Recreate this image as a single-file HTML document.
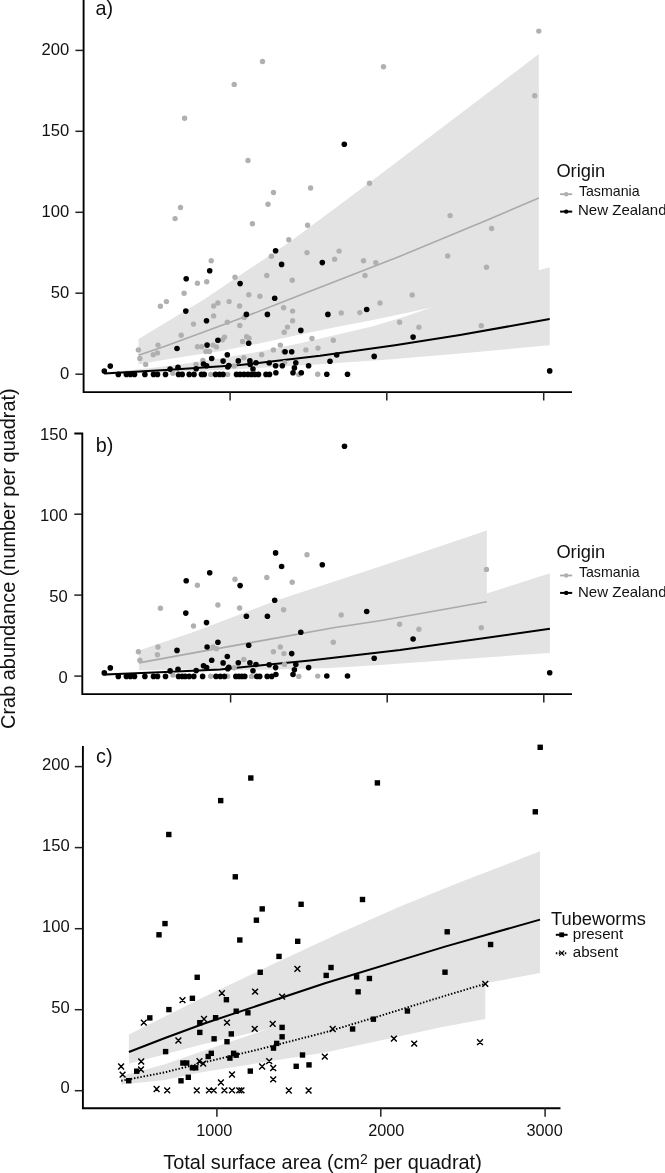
<!DOCTYPE html>
<html><head><meta charset="utf-8"><title>Crab abundance figure</title>
<style>html,body{margin:0;padding:0;background:#fff;}body{width:665px;height:1173px;overflow:hidden;font-family:"Liberation Sans",sans-serif;}svg{display:block;will-change:transform;filter:blur(0.3px);}</style>
</head><body>
<svg width="665" height="1173" viewBox="0 0 665 1173"><polygon points="138.5,339.1 170,319.9 202.8,300.2 290,241.8 373.7,179.5 538.8,54.1 538.8,280 431,307.4 406,313 373,320 340,326.3 300,334.6 260,343.2 220,351.2 180,357.3 160,360.6 138.5,364.5" fill="#e3e3e3"/>
<polygon points="104,372.2 140,369.2 180,364.6 220,358.2 260,351.6 300,343.2 340,334 373,326.3 406,316.3 431,307.6 538.8,270.3 549.7,267.3 549.7,345.3 460,353.4 392,359.2 315,364.6 240,369 170,372.2 104,374.6" fill="#e3e3e3"/>
<polyline points="138.5,355.3 165,346.3 245,316.8 289.5,299.2 400,256.2 485,221.1 538.8,198" fill="none" stroke="#aaaaaa" stroke-width="1.6" stroke-linejoin="round" />
<polyline points="104.2,373.4 170,369.8 240,365 320,355.8 395,345.2 460,335 549.7,319.1" fill="none" stroke="#000" stroke-width="2" stroke-linejoin="round" />
<circle cx="538.8" cy="31.1" r="2.7" fill="#b0b0b0"/><circle cx="262.5" cy="61.5" r="2.7" fill="#b0b0b0"/><circle cx="383.5" cy="66.7" r="2.7" fill="#b0b0b0"/><circle cx="234.2" cy="84.4" r="2.7" fill="#b0b0b0"/><circle cx="534.7" cy="95.8" r="2.7" fill="#b0b0b0"/><circle cx="184.6" cy="118.3" r="2.7" fill="#b0b0b0"/><circle cx="248" cy="160.5" r="2.7" fill="#b0b0b0"/><circle cx="273.5" cy="192.5" r="2.7" fill="#b0b0b0"/><circle cx="268" cy="204.2" r="2.7" fill="#b0b0b0"/><circle cx="180.5" cy="207.5" r="2.7" fill="#b0b0b0"/><circle cx="175.1" cy="218.6" r="2.7" fill="#b0b0b0"/><circle cx="252.4" cy="223.8" r="2.7" fill="#b0b0b0"/><circle cx="288.8" cy="239.7" r="2.7" fill="#b0b0b0"/><circle cx="271.4" cy="256.2" r="2.7" fill="#b0b0b0"/><circle cx="211.2" cy="260.8" r="2.7" fill="#b0b0b0"/><circle cx="197.4" cy="283.3" r="2.7" fill="#b0b0b0"/><circle cx="206.7" cy="281.8" r="2.7" fill="#b0b0b0"/><circle cx="235" cy="277.3" r="2.7" fill="#b0b0b0"/><circle cx="266.8" cy="275.5" r="2.7" fill="#b0b0b0"/><circle cx="184.1" cy="293.2" r="2.7" fill="#b0b0b0"/><circle cx="248.8" cy="294.7" r="2.7" fill="#b0b0b0"/><circle cx="259.9" cy="296.2" r="2.7" fill="#b0b0b0"/><circle cx="310.6" cy="188" r="2.7" fill="#b0b0b0"/><circle cx="369.5" cy="183.2" r="2.7" fill="#b0b0b0"/><circle cx="307.6" cy="225.3" r="2.7" fill="#b0b0b0"/><circle cx="450.1" cy="215.6" r="2.7" fill="#b0b0b0"/><circle cx="307" cy="252.6" r="2.7" fill="#b0b0b0"/><circle cx="339.1" cy="251.1" r="2.7" fill="#b0b0b0"/><circle cx="334.6" cy="259.2" r="2.7" fill="#b0b0b0"/><circle cx="363.5" cy="260.8" r="2.7" fill="#b0b0b0"/><circle cx="375.8" cy="262.6" r="2.7" fill="#b0b0b0"/><circle cx="447.7" cy="255.9" r="2.7" fill="#b0b0b0"/><circle cx="292.2" cy="280.3" r="2.7" fill="#b0b0b0"/><circle cx="365" cy="275.5" r="2.7" fill="#b0b0b0"/><circle cx="412.2" cy="295" r="2.7" fill="#b0b0b0"/><circle cx="491.6" cy="228.5" r="2.7" fill="#b0b0b0"/><circle cx="486.5" cy="267.3" r="2.7" fill="#b0b0b0"/><circle cx="481.3" cy="325.8" r="2.7" fill="#b0b0b0"/><circle cx="160.4" cy="306.3" r="2.7" fill="#b0b0b0"/><circle cx="166.4" cy="301.6" r="2.7" fill="#b0b0b0"/><circle cx="138.4" cy="349.9" r="2.7" fill="#b0b0b0"/><circle cx="158" cy="345.1" r="2.7" fill="#b0b0b0"/><circle cx="139.9" cy="358.4" r="2.7" fill="#b0b0b0"/><circle cx="153.2" cy="354.7" r="2.7" fill="#b0b0b0"/><circle cx="157.4" cy="352.9" r="2.7" fill="#b0b0b0"/><circle cx="145.7" cy="364.4" r="2.7" fill="#b0b0b0"/><circle cx="213.7" cy="306" r="2.7" fill="#b0b0b0"/><circle cx="217.9" cy="303" r="2.7" fill="#b0b0b0"/><circle cx="229.1" cy="301.6" r="2.7" fill="#b0b0b0"/><circle cx="239.6" cy="306" r="2.7" fill="#b0b0b0"/><circle cx="213.6" cy="315.9" r="2.7" fill="#b0b0b0"/><circle cx="193.5" cy="324.1" r="2.7" fill="#b0b0b0"/><circle cx="227.3" cy="322.3" r="2.7" fill="#b0b0b0"/><circle cx="239.8" cy="325.5" r="2.7" fill="#b0b0b0"/><circle cx="181.2" cy="335.3" r="2.7" fill="#b0b0b0"/><circle cx="224.5" cy="337.1" r="2.7" fill="#b0b0b0"/><circle cx="222.5" cy="339.7" r="2.7" fill="#b0b0b0"/><circle cx="242.6" cy="341.5" r="2.7" fill="#b0b0b0"/><circle cx="197.5" cy="346.7" r="2.7" fill="#b0b0b0"/><circle cx="201.7" cy="346.7" r="2.7" fill="#b0b0b0"/><circle cx="213.1" cy="345.1" r="2.7" fill="#b0b0b0"/><circle cx="216.5" cy="346.9" r="2.7" fill="#b0b0b0"/><circle cx="205.9" cy="351.5" r="2.7" fill="#b0b0b0"/><circle cx="209.5" cy="351.5" r="2.7" fill="#b0b0b0"/><circle cx="243.8" cy="357.7" r="2.7" fill="#b0b0b0"/><circle cx="202.9" cy="360.5" r="2.7" fill="#b0b0b0"/><circle cx="196" cy="364.4" r="2.7" fill="#b0b0b0"/><circle cx="234.2" cy="365.9" r="2.7" fill="#b0b0b0"/><circle cx="172.8" cy="373.2" r="2.7" fill="#b0b0b0"/><circle cx="210.7" cy="374.4" r="2.7" fill="#b0b0b0"/><circle cx="227.6" cy="374.4" r="2.7" fill="#b0b0b0"/><circle cx="283.6" cy="307.8" r="2.7" fill="#b0b0b0"/><circle cx="292.6" cy="311.1" r="2.7" fill="#b0b0b0"/><circle cx="244.2" cy="317.4" r="2.7" fill="#b0b0b0"/><circle cx="292.6" cy="320.7" r="2.7" fill="#b0b0b0"/><circle cx="287.5" cy="327.1" r="2.7" fill="#b0b0b0"/><circle cx="284.2" cy="332.2" r="2.7" fill="#b0b0b0"/><circle cx="246.6" cy="336.7" r="2.7" fill="#b0b0b0"/><circle cx="249" cy="338.3" r="2.7" fill="#b0b0b0"/><circle cx="312" cy="338.5" r="2.7" fill="#b0b0b0"/><circle cx="280.3" cy="345.1" r="2.7" fill="#b0b0b0"/><circle cx="273.4" cy="349.9" r="2.7" fill="#b0b0b0"/><circle cx="305.9" cy="349.9" r="2.7" fill="#b0b0b0"/><circle cx="318" cy="348.1" r="2.7" fill="#b0b0b0"/><circle cx="261.7" cy="354.7" r="2.7" fill="#b0b0b0"/><circle cx="284.5" cy="362.6" r="2.7" fill="#b0b0b0"/><circle cx="298.8" cy="374.6" r="2.7" fill="#b0b0b0"/><circle cx="317.7" cy="374.3" r="2.7" fill="#b0b0b0"/><circle cx="380" cy="303" r="2.7" fill="#b0b0b0"/><circle cx="359.8" cy="312.6" r="2.7" fill="#b0b0b0"/><circle cx="341.2" cy="312.9" r="2.7" fill="#b0b0b0"/><circle cx="333.3" cy="340.3" r="2.7" fill="#b0b0b0"/><circle cx="399.6" cy="322.3" r="2.7" fill="#b0b0b0"/><circle cx="418.9" cy="327.3" r="2.7" fill="#b0b0b0"/><circle cx="283.9" cy="351.7" r="2.7" fill="#b0b0b0"/>
<circle cx="344.3" cy="144.2" r="2.8" fill="#000"/><circle cx="275.6" cy="250.8" r="2.8" fill="#000"/><circle cx="281.6" cy="264.4" r="2.8" fill="#000"/><circle cx="209.7" cy="270.7" r="2.8" fill="#000"/><circle cx="186.2" cy="278.8" r="2.8" fill="#000"/><circle cx="240.1" cy="283.6" r="2.8" fill="#000"/><circle cx="274.7" cy="298.3" r="2.8" fill="#000"/><circle cx="322.3" cy="262.6" r="2.8" fill="#000"/><circle cx="110.3" cy="366.1" r="2.8" fill="#000"/><circle cx="104.3" cy="371.1" r="2.8" fill="#000"/><circle cx="185.8" cy="311.1" r="2.8" fill="#000"/><circle cx="206.5" cy="320.7" r="2.8" fill="#000"/><circle cx="246.4" cy="314.4" r="2.8" fill="#000"/><circle cx="217.9" cy="340.3" r="2.8" fill="#000"/><circle cx="177" cy="348.5" r="2.8" fill="#000"/><circle cx="207.1" cy="345.1" r="2.8" fill="#000"/><circle cx="211.7" cy="358.5" r="2.8" fill="#000"/><circle cx="227.3" cy="354.7" r="2.8" fill="#000"/><circle cx="223.1" cy="361.1" r="2.8" fill="#000"/><circle cx="238.3" cy="360.9" r="2.8" fill="#000"/><circle cx="203.5" cy="364" r="2.8" fill="#000"/><circle cx="206.6" cy="365.7" r="2.8" fill="#000"/><circle cx="178" cy="367.4" r="2.8" fill="#000"/><circle cx="170.1" cy="369.1" r="2.8" fill="#000"/><circle cx="196.2" cy="368.8" r="2.8" fill="#000"/><circle cx="227.8" cy="367" r="2.8" fill="#000"/><circle cx="228.8" cy="365.6" r="2.8" fill="#000"/><circle cx="267.4" cy="314.4" r="2.8" fill="#000"/><circle cx="300.8" cy="330.4" r="2.8" fill="#000"/><circle cx="248.7" cy="343.3" r="2.8" fill="#000"/><circle cx="285.1" cy="351.7" r="2.8" fill="#000"/><circle cx="291.7" cy="351.7" r="2.8" fill="#000"/><circle cx="249.9" cy="360.9" r="2.8" fill="#000"/><circle cx="250.2" cy="364.5" r="2.8" fill="#000"/><circle cx="256" cy="362.7" r="2.8" fill="#000"/><circle cx="269.2" cy="363" r="2.8" fill="#000"/><circle cx="275.6" cy="365.8" r="2.8" fill="#000"/><circle cx="282.3" cy="365.8" r="2.8" fill="#000"/><circle cx="295.8" cy="362.7" r="2.8" fill="#000"/><circle cx="294.4" cy="367.9" r="2.8" fill="#000"/><circle cx="308.6" cy="365.8" r="2.8" fill="#000"/><circle cx="253" cy="369" r="2.8" fill="#000"/><circle cx="293" cy="372.7" r="2.8" fill="#000"/><circle cx="301.3" cy="372.7" r="2.8" fill="#000"/><circle cx="275.9" cy="372.7" r="2.8" fill="#000"/><circle cx="366.7" cy="309.5" r="2.8" fill="#000"/><circle cx="327.9" cy="314.4" r="2.8" fill="#000"/><circle cx="336.7" cy="355" r="2.8" fill="#000"/><circle cx="330" cy="361.2" r="2.8" fill="#000"/><circle cx="374.2" cy="356.4" r="2.8" fill="#000"/><circle cx="326.8" cy="374.2" r="2.8" fill="#000"/><circle cx="347.5" cy="374.2" r="2.8" fill="#000"/><circle cx="413.1" cy="337.1" r="2.8" fill="#000"/><circle cx="549.7" cy="370.9" r="2.8" fill="#000"/>
<circle cx="118.3" cy="374.4" r="2.8" fill="#000"/><circle cx="126.4" cy="374.4" r="2.8" fill="#000"/><circle cx="130.4" cy="374.4" r="2.8" fill="#000"/><circle cx="134.5" cy="374.4" r="2.8" fill="#000"/><circle cx="144.9" cy="374.4" r="2.8" fill="#000"/><circle cx="153.5" cy="374.4" r="2.8" fill="#000"/><circle cx="157.5" cy="374.4" r="2.8" fill="#000"/><circle cx="165.5" cy="374.4" r="2.8" fill="#000"/><circle cx="178.5" cy="374.4" r="2.8" fill="#000"/><circle cx="182.2" cy="374.4" r="2.8" fill="#000"/><circle cx="189.2" cy="374.4" r="2.8" fill="#000"/><circle cx="194" cy="374.4" r="2.8" fill="#000"/><circle cx="201.5" cy="374.4" r="2.8" fill="#000"/><circle cx="204.2" cy="374.4" r="2.8" fill="#000"/><circle cx="215.5" cy="374.4" r="2.8" fill="#000"/><circle cx="219.5" cy="374.4" r="2.8" fill="#000"/><circle cx="223" cy="374.4" r="2.8" fill="#000"/><circle cx="236.5" cy="374.4" r="2.8" fill="#000"/><circle cx="240" cy="374.4" r="2.8" fill="#000"/><circle cx="244" cy="374.4" r="2.8" fill="#000"/><circle cx="248" cy="374.4" r="2.8" fill="#000"/><circle cx="251.5" cy="374.4" r="2.8" fill="#000"/><circle cx="255" cy="374.4" r="2.8" fill="#000"/><circle cx="258.5" cy="374.4" r="2.8" fill="#000"/><circle cx="266" cy="374.4" r="2.8" fill="#000"/><circle cx="269.5" cy="374.4" r="2.8" fill="#000"/>
<polygon points="138.9,650.4 195,631.6 280,599.2 380,566.5 486.8,530.5 486.8,640 330,664 230,668.8 138.9,670.3" fill="#e3e3e3"/>
<polygon points="104,673.3 138.9,672.6 200,670.5 250,667.5 300,658 400,628 486.8,593.6 549.9,573.2 549.9,652.9 380,664.9 330,668 250,670 138.9,672 104,676.5" fill="#e3e3e3"/>
<polyline points="138.9,662.9 195,652.6 255,641.9 335,627.5 380,620.7 486.8,601.7" fill="none" stroke="#aaaaaa" stroke-width="1.6" stroke-linejoin="round" />
<polyline points="104.8,674.4 160,672.3 220,669.4 310,660.4 400,649.9 549.9,628.8" fill="none" stroke="#000" stroke-width="2" stroke-linejoin="round" />
<circle cx="197.4" cy="585.3" r="2.7" fill="#b0b0b0"/><circle cx="235" cy="579.3" r="2.7" fill="#b0b0b0"/><circle cx="266.8" cy="577.5" r="2.7" fill="#b0b0b0"/><circle cx="160.4" cy="608.3" r="2.7" fill="#b0b0b0"/><circle cx="217.9" cy="605" r="2.7" fill="#b0b0b0"/><circle cx="239.6" cy="608" r="2.7" fill="#b0b0b0"/><circle cx="283.6" cy="609.8" r="2.7" fill="#b0b0b0"/><circle cx="193.5" cy="626" r="2.7" fill="#b0b0b0"/><circle cx="307" cy="554.7" r="2.7" fill="#b0b0b0"/><circle cx="292.2" cy="582.3" r="2.7" fill="#b0b0b0"/><circle cx="341.2" cy="614.9" r="2.7" fill="#b0b0b0"/><circle cx="399.6" cy="624.2" r="2.7" fill="#b0b0b0"/><circle cx="418.9" cy="629.2" r="2.7" fill="#b0b0b0"/><circle cx="138.4" cy="651.8" r="2.7" fill="#b0b0b0"/><circle cx="158" cy="647" r="2.7" fill="#b0b0b0"/><circle cx="157.4" cy="654.8" r="2.7" fill="#b0b0b0"/><circle cx="139.9" cy="660.2" r="2.7" fill="#b0b0b0"/><circle cx="172.8" cy="675" r="2.7" fill="#b0b0b0"/><circle cx="333.3" cy="642.2" r="2.7" fill="#b0b0b0"/><circle cx="213.1" cy="647" r="2.7" fill="#b0b0b0"/><circle cx="216.5" cy="648.8" r="2.7" fill="#b0b0b0"/><circle cx="273.4" cy="651.8" r="2.7" fill="#b0b0b0"/><circle cx="280.3" cy="647" r="2.7" fill="#b0b0b0"/><circle cx="283.9" cy="653.6" r="2.7" fill="#b0b0b0"/><circle cx="243.8" cy="659.5" r="2.7" fill="#b0b0b0"/><circle cx="284.5" cy="664.4" r="2.7" fill="#b0b0b0"/><circle cx="234.2" cy="667.7" r="2.7" fill="#b0b0b0"/><circle cx="210.7" cy="676.2" r="2.7" fill="#b0b0b0"/><circle cx="227.6" cy="676.2" r="2.7" fill="#b0b0b0"/><circle cx="298.8" cy="676.4" r="2.7" fill="#b0b0b0"/><circle cx="317.7" cy="676.1" r="2.7" fill="#b0b0b0"/><circle cx="486.5" cy="569.4" r="2.7" fill="#b0b0b0"/><circle cx="481.3" cy="627.7" r="2.7" fill="#b0b0b0"/><circle cx="251.5" cy="676.4" r="2.7" fill="#b0b0b0"/>
<circle cx="275.6" cy="552.9" r="2.8" fill="#000"/><circle cx="281.6" cy="566.5" r="2.8" fill="#000"/><circle cx="209.7" cy="572.8" r="2.8" fill="#000"/><circle cx="186.2" cy="580.8" r="2.8" fill="#000"/><circle cx="240.1" cy="585.6" r="2.8" fill="#000"/><circle cx="274.7" cy="600.3" r="2.8" fill="#000"/><circle cx="322.3" cy="564.7" r="2.8" fill="#000"/><circle cx="110.3" cy="667.9" r="2.8" fill="#000"/><circle cx="104.3" cy="672.9" r="2.8" fill="#000"/><circle cx="185.8" cy="613.1" r="2.8" fill="#000"/><circle cx="206.5" cy="622.6" r="2.8" fill="#000"/><circle cx="246.4" cy="616.3" r="2.8" fill="#000"/><circle cx="217.9" cy="642.2" r="2.8" fill="#000"/><circle cx="177" cy="650.4" r="2.8" fill="#000"/><circle cx="207.1" cy="647" r="2.8" fill="#000"/><circle cx="211.7" cy="660.3" r="2.8" fill="#000"/><circle cx="227.3" cy="656.5" r="2.8" fill="#000"/><circle cx="223.1" cy="662.9" r="2.8" fill="#000"/><circle cx="238.3" cy="662.7" r="2.8" fill="#000"/><circle cx="203.5" cy="665.8" r="2.8" fill="#000"/><circle cx="206.6" cy="667.5" r="2.8" fill="#000"/><circle cx="178" cy="669.2" r="2.8" fill="#000"/><circle cx="170.1" cy="670.9" r="2.8" fill="#000"/><circle cx="196.2" cy="670.6" r="2.8" fill="#000"/><circle cx="227.8" cy="668.8" r="2.8" fill="#000"/><circle cx="228.8" cy="667.4" r="2.8" fill="#000"/><circle cx="267.4" cy="616.3" r="2.8" fill="#000"/><circle cx="300.8" cy="632.3" r="2.8" fill="#000"/><circle cx="248.7" cy="645.2" r="2.8" fill="#000"/><circle cx="291.7" cy="653.6" r="2.8" fill="#000"/><circle cx="249.9" cy="662.7" r="2.8" fill="#000"/><circle cx="256" cy="664.5" r="2.8" fill="#000"/><circle cx="269.2" cy="664.8" r="2.8" fill="#000"/><circle cx="275.6" cy="667.6" r="2.8" fill="#000"/><circle cx="295.8" cy="664.5" r="2.8" fill="#000"/><circle cx="294.4" cy="669.7" r="2.8" fill="#000"/><circle cx="308.6" cy="667.6" r="2.8" fill="#000"/><circle cx="253" cy="670.8" r="2.8" fill="#000"/><circle cx="293" cy="674.5" r="2.8" fill="#000"/><circle cx="275.9" cy="674.5" r="2.8" fill="#000"/><circle cx="366.7" cy="611.5" r="2.8" fill="#000"/><circle cx="374.2" cy="658.2" r="2.8" fill="#000"/><circle cx="326.8" cy="676" r="2.8" fill="#000"/><circle cx="347.5" cy="676" r="2.8" fill="#000"/><circle cx="413.1" cy="639" r="2.8" fill="#000"/><circle cx="549.7" cy="672.7" r="2.8" fill="#000"/>
<circle cx="344.5" cy="446.2" r="2.8" fill="#000"/>
<circle cx="118.3" cy="676.4" r="2.8" fill="#000"/><circle cx="126.4" cy="676.4" r="2.8" fill="#000"/><circle cx="130.4" cy="676.4" r="2.8" fill="#000"/><circle cx="134.5" cy="676.4" r="2.8" fill="#000"/><circle cx="144.9" cy="676.4" r="2.8" fill="#000"/><circle cx="153.5" cy="676.4" r="2.8" fill="#000"/><circle cx="157.5" cy="676.4" r="2.8" fill="#000"/><circle cx="165.5" cy="676.4" r="2.8" fill="#000"/><circle cx="178.5" cy="676.4" r="2.8" fill="#000"/><circle cx="182.2" cy="676.4" r="2.8" fill="#000"/><circle cx="185.2" cy="676.4" r="2.8" fill="#000"/><circle cx="189.2" cy="676.4" r="2.8" fill="#000"/><circle cx="193.8" cy="676.4" r="2.8" fill="#000"/><circle cx="202.6" cy="676.4" r="2.8" fill="#000"/><circle cx="216" cy="676.4" r="2.8" fill="#000"/><circle cx="220.3" cy="676.4" r="2.8" fill="#000"/><circle cx="224.5" cy="676.4" r="2.8" fill="#000"/><circle cx="235.8" cy="676.4" r="2.8" fill="#000"/><circle cx="238.8" cy="676.4" r="2.8" fill="#000"/><circle cx="241.8" cy="676.4" r="2.8" fill="#000"/><circle cx="244.8" cy="676.4" r="2.8" fill="#000"/><circle cx="256.7" cy="676.4" r="2.8" fill="#000"/><circle cx="259.7" cy="676.4" r="2.8" fill="#000"/><circle cx="267.2" cy="676.4" r="2.8" fill="#000"/><circle cx="271.7" cy="676.4" r="2.8" fill="#000"/>
<polygon points="128.9,1034.4 210,994.1 281.8,960 340,933.1 400,906.5 460,882.3 540,851.3 540,973.1 485.3,983.2 266.5,1029.4 200,1045 128.9,1063.7" fill="#e3e3e3"/>
<polygon points="121.2,1076 165,1064.2 200,1051.9 266.5,1029.4 380,1000 485.3,975 485.3,1019 440,1027.4 325,1052.5 200,1072.4 165,1080 121.2,1084.5" fill="#e3e3e3"/>
<polyline points="128.9,1052 165,1038 205,1023.2 325,983.2 445,946.6 540,919.6" fill="none" stroke="#000" stroke-width="2" stroke-linejoin="round" />
<polyline points="121.2,1080.8 165,1072.3 205,1062.2 260,1049.1 325,1032.4 380,1015.9 445,995.8 485.3,983.8" fill="none" stroke="#000" stroke-width="1.9" stroke-linejoin="round" stroke-dasharray="1.45 1.8"/>
<rect x="537.5" y="744.6" width="5.4" height="5.4"/><rect x="248.1" y="775.3" width="5.4" height="5.4"/><rect x="374.7" y="780.2" width="5.4" height="5.4"/><rect x="218" y="797.9" width="5.4" height="5.4"/><rect x="532.6" y="809.1" width="5.4" height="5.4"/><rect x="166.1" y="831.8" width="5.4" height="5.4"/><rect x="232.6" y="874.1" width="5.4" height="5.4"/><rect x="298.4" y="901.6" width="5.4" height="5.4"/><rect x="359.8" y="896.8" width="5.4" height="5.4"/><rect x="259.5" y="906.2" width="5.4" height="5.4"/><rect x="253.7" y="917.5" width="5.4" height="5.4"/><rect x="162.3" y="920.9" width="5.4" height="5.4"/><rect x="156.3" y="932.1" width="5.4" height="5.4"/><rect x="237.1" y="937.3" width="5.4" height="5.4"/><rect x="295" y="938.6" width="5.4" height="5.4"/><rect x="444.5" y="929.1" width="5.4" height="5.4"/><rect x="487.9" y="941.8" width="5.4" height="5.4"/><rect x="276.3" y="953.7" width="5.4" height="5.4"/><rect x="442.3" y="969.5" width="5.4" height="5.4"/><rect x="257.5" y="969.6" width="5.4" height="5.4"/><rect x="328.3" y="964.8" width="5.4" height="5.4"/><rect x="323.5" y="972.7" width="5.4" height="5.4"/><rect x="353.9" y="974.2" width="5.4" height="5.4"/><rect x="366.7" y="975.8" width="5.4" height="5.4"/><rect x="355.4" y="989.1" width="5.4" height="5.4"/><rect x="194.5" y="974.6" width="5.4" height="5.4"/><rect x="189.7" y="995.6" width="5.4" height="5.4"/><rect x="223.7" y="997" width="5.4" height="5.4"/><rect x="166.2" y="1006.9" width="5.4" height="5.4"/><rect x="147.1" y="1015.2" width="5.4" height="5.4"/><rect x="197.1" y="1020" width="5.4" height="5.4"/><rect x="197.1" y="1029.7" width="5.4" height="5.4"/><rect x="212.9" y="1015" width="5.4" height="5.4"/><rect x="233.5" y="1008.5" width="5.4" height="5.4"/><rect x="245.2" y="1010.1" width="5.4" height="5.4"/><rect x="211.4" y="1036.1" width="5.4" height="5.4"/><rect x="228.6" y="1031.2" width="5.4" height="5.4"/><rect x="224.3" y="1039" width="5.4" height="5.4"/><rect x="279.4" y="1024.7" width="5.4" height="5.4"/><rect x="279.4" y="1034.1" width="5.4" height="5.4"/><rect x="274" y="1040.7" width="5.4" height="5.4"/><rect x="270.8" y="1045.4" width="5.4" height="5.4"/><rect x="162.9" y="1048.9" width="5.4" height="5.4"/><rect x="180.2" y="1060.3" width="5.4" height="5.4"/><rect x="184" y="1060.3" width="5.4" height="5.4"/><rect x="189.7" y="1065.1" width="5.4" height="5.4"/><rect x="193" y="1065.1" width="5.4" height="5.4"/><rect x="205.5" y="1053.8" width="5.4" height="5.4"/><rect x="208.6" y="1050.6" width="5.4" height="5.4"/><rect x="230.9" y="1050.6" width="5.4" height="5.4"/><rect x="233.5" y="1052.5" width="5.4" height="5.4"/><rect x="227.2" y="1055.4" width="5.4" height="5.4"/><rect x="299.8" y="1052.3" width="5.4" height="5.4"/><rect x="293.5" y="1063.6" width="5.4" height="5.4"/><rect x="306.3" y="1062.2" width="5.4" height="5.4"/><rect x="247.6" y="1068.4" width="5.4" height="5.4"/><rect x="134" y="1068.5" width="5.4" height="5.4"/><rect x="126" y="1078" width="5.4" height="5.4"/><rect x="178.3" y="1078.1" width="5.4" height="5.4"/><rect x="185.6" y="1074.6" width="5.4" height="5.4"/><rect x="404.7" y="1008.3" width="5.4" height="5.4"/><rect x="370.7" y="1016.5" width="5.4" height="5.4"/><rect x="349.9" y="1026.3" width="5.4" height="5.4"/>
<path d="M294.5 965.9L300.3 971.7M294.5 971.7L300.3 965.9M179.6 997.3L185.4 1003.1M179.6 1003.1L185.4 997.3M219 990.3L224.8 996.1M219 996.1L224.8 990.3M252.2 988.8L258 994.6M252.2 994.6L258 988.8M279.2 993.7L285 999.5M279.2 999.5L285 993.7M482.4 980.9L488.2 986.7M482.4 986.7L488.2 980.9M140.9 1019.8L146.7 1025.6M140.9 1025.6L146.7 1019.8M201.1 1016.1L206.9 1021.9M201.1 1021.9L206.9 1016.1M224.1 1019.7L229.9 1025.5M224.1 1025.5L229.9 1019.7M251.8 1025.9L257.6 1031.7M251.8 1031.7L257.6 1025.9M269.8 1021L275.6 1026.8M269.8 1026.8L275.6 1021M175.5 1037.6L181.3 1043.4M175.5 1043.4L181.3 1037.6M329.8 1026.1L335.6 1031.9M329.8 1031.9L335.6 1026.1M391 1035.8L396.8 1041.6M391 1041.6L396.8 1035.8M411.3 1040.7L417.1 1046.5M411.3 1046.5L417.1 1040.7M477.1 1039.2L482.9 1045M477.1 1045L482.9 1039.2M321.9 1053.7L327.7 1059.5M321.9 1059.5L327.7 1053.7M138.3 1058.6L144.1 1064.4M138.3 1064.4L144.1 1058.6M138.1 1066.6L143.9 1072.4M138.1 1072.4L143.9 1066.6M118.2 1063.6L124 1069.4M118.2 1069.4L124 1063.6M119.7 1071.7L125.5 1077.5M119.7 1077.5L125.5 1071.7M196.6 1058.2L202.4 1064M196.6 1064L202.4 1058.2M200.3 1060.7L206.1 1066.5M200.3 1066.5L206.1 1060.7M266.3 1058.3L272.1 1064.1M266.3 1064.1L272.1 1058.3M259.2 1063.6L265 1069.4M259.2 1069.4L265 1063.6M270.3 1065.1L276.1 1070.9M270.3 1070.9L276.1 1065.1M229.1 1071.6L234.9 1077.4M229.1 1077.4L234.9 1071.6M270.3 1076.5L276.1 1082.3M270.3 1082.3L276.1 1076.5M218 1079.6L223.8 1085.4M218 1085.4L223.8 1079.6M153.7 1086.1L159.5 1091.9M153.7 1091.9L159.5 1086.1M164.3 1087.5L170.1 1093.3M164.3 1093.3L170.1 1087.5M193.9 1087.5L199.7 1093.3M193.9 1093.3L199.7 1087.5M206.1 1087.5L211.9 1093.3M206.1 1093.3L211.9 1087.5M210.8 1087.5L216.6 1093.3M210.8 1093.3L216.6 1087.5M221.5 1087.5L227.3 1093.3M221.5 1093.3L227.3 1087.5M229.1 1087.5L234.9 1093.3M229.1 1093.3L234.9 1087.5M236.3 1087.5L242.1 1093.3M236.3 1093.3L242.1 1087.5M238.6 1087.5L244.4 1093.3M238.6 1093.3L244.4 1087.5M285.9 1087.6L291.7 1093.4M285.9 1093.4L291.7 1087.6M305.7 1087.6L311.5 1093.4M305.7 1093.4L311.5 1087.6" stroke="#000" stroke-width="1.45" fill="none"/>
<path d="M83.6 0V392.1H572" stroke="#000" stroke-width="1.9" fill="none" stroke-linecap="butt"/>
<line x1="75.4" y1="50.4" x2="83" y2="50.4" stroke="#222" stroke-width="1.5"/>
<line x1="75.4" y1="131.3" x2="83" y2="131.3" stroke="#222" stroke-width="1.5"/>
<line x1="75.4" y1="212.3" x2="83" y2="212.3" stroke="#222" stroke-width="1.5"/>
<line x1="75.4" y1="293.2" x2="83" y2="293.2" stroke="#222" stroke-width="1.5"/>
<line x1="75.4" y1="374.2" x2="83" y2="374.2" stroke="#222" stroke-width="1.5"/>
<line x1="230.1" y1="392" x2="230.1" y2="400.5" stroke="#222" stroke-width="1.5"/>
<line x1="386.8" y1="392" x2="386.8" y2="400.5" stroke="#222" stroke-width="1.5"/>
<line x1="543.7" y1="392" x2="543.7" y2="400.5" stroke="#222" stroke-width="1.5"/>
<path d="M74.3 433.5H82.3V694.1H572" stroke="#000" stroke-width="1.9" fill="none" stroke-linecap="butt"/>
<line x1="74.3" y1="514.2" x2="82" y2="514.2" stroke="#222" stroke-width="1.5"/>
<line x1="74.3" y1="595.1" x2="82" y2="595.1" stroke="#222" stroke-width="1.5"/>
<line x1="74.3" y1="676.1" x2="82" y2="676.1" stroke="#222" stroke-width="1.5"/>
<line x1="230.6" y1="694" x2="230.6" y2="702.5" stroke="#222" stroke-width="1.5"/>
<line x1="387.2" y1="694" x2="387.2" y2="702.5" stroke="#222" stroke-width="1.5"/>
<line x1="543.8" y1="694" x2="543.8" y2="702.5" stroke="#222" stroke-width="1.5"/>
<path d="M82.9 745.9V1108.3H560.5" stroke="#000" stroke-width="1.9" fill="none" stroke-linecap="butt"/>
<line x1="74.8" y1="766.6" x2="82.5" y2="766.6" stroke="#222" stroke-width="1.5"/>
<line x1="74.8" y1="847.6" x2="82.5" y2="847.6" stroke="#222" stroke-width="1.5"/>
<line x1="74.8" y1="928.7" x2="82.5" y2="928.7" stroke="#222" stroke-width="1.5"/>
<line x1="74.8" y1="1009.7" x2="82.5" y2="1009.7" stroke="#222" stroke-width="1.5"/>
<line x1="74.8" y1="1090.7" x2="82.5" y2="1090.7" stroke="#222" stroke-width="1.5"/>
<line x1="216.9" y1="1108" x2="216.9" y2="1116.7" stroke="#222" stroke-width="1.5"/>
<line x1="380.8" y1="1108" x2="380.8" y2="1116.7" stroke="#222" stroke-width="1.5"/>
<line x1="545.1" y1="1108" x2="545.1" y2="1116.7" stroke="#222" stroke-width="1.5"/>
<text x="69.2" y="55" font-size="16.6" text-anchor="end" font-family="Liberation Sans, sans-serif" fill="#111" >200</text>
<text x="69.2" y="135.7" font-size="16.6" text-anchor="end" font-family="Liberation Sans, sans-serif" fill="#111" >150</text>
<text x="69.2" y="216.7" font-size="16.6" text-anchor="end" font-family="Liberation Sans, sans-serif" fill="#111" >100</text>
<text x="69.2" y="297.8" font-size="16.6" text-anchor="end" font-family="Liberation Sans, sans-serif" fill="#111" >50</text>
<text x="69.2" y="378.8" font-size="16.6" text-anchor="end" font-family="Liberation Sans, sans-serif" fill="#111" >0</text>
<text x="67.7" y="440" font-size="16.6" text-anchor="end" font-family="Liberation Sans, sans-serif" fill="#111" >150</text>
<text x="67.7" y="520.7" font-size="16.6" text-anchor="end" font-family="Liberation Sans, sans-serif" fill="#111" >100</text>
<text x="67.7" y="601.6" font-size="16.6" text-anchor="end" font-family="Liberation Sans, sans-serif" fill="#111" >50</text>
<text x="67.7" y="682.7" font-size="16.6" text-anchor="end" font-family="Liberation Sans, sans-serif" fill="#111" >0</text>
<text x="69.7" y="769.7" font-size="16.6" text-anchor="end" font-family="Liberation Sans, sans-serif" fill="#111" >200</text>
<text x="69.7" y="850.5" font-size="16.6" text-anchor="end" font-family="Liberation Sans, sans-serif" fill="#111" >150</text>
<text x="69.7" y="931.7" font-size="16.6" text-anchor="end" font-family="Liberation Sans, sans-serif" fill="#111" >100</text>
<text x="69.7" y="1012.7" font-size="16.6" text-anchor="end" font-family="Liberation Sans, sans-serif" fill="#111" >50</text>
<text x="69.7" y="1093.2" font-size="16.6" text-anchor="end" font-family="Liberation Sans, sans-serif" fill="#111" >0</text>
<text x="214.3" y="1135.8" font-size="16.3" text-anchor="middle" font-family="Liberation Sans, sans-serif" fill="#111" >1000</text>
<text x="386.3" y="1135.8" font-size="16.3" text-anchor="middle" font-family="Liberation Sans, sans-serif" fill="#111" >2000</text>
<text x="544.6" y="1135.8" font-size="16.3" text-anchor="middle" font-family="Liberation Sans, sans-serif" fill="#111" >3000</text>
<text x="95.6" y="14.7" font-size="19.8" text-anchor="start" font-family="Liberation Sans, sans-serif" fill="#111" >a)</text>
<text x="95.8" y="451.7" font-size="19.8" text-anchor="start" font-family="Liberation Sans, sans-serif" fill="#111" >b)</text>
<text x="96" y="762.7" font-size="19.8" text-anchor="start" font-family="Liberation Sans, sans-serif" fill="#111" >c)</text>
<text transform="translate(15.0,558.6) rotate(-90)" font-size="19.9" text-anchor="middle" font-family="Liberation Sans, sans-serif" fill="#111">Crab abundance (number per quadrat)</text>
<text x="163.3" y="1168.6" font-size="19.9" font-family="Liberation Sans, sans-serif" fill="#111">Total surface area (cm<tspan font-size="14" dy="-4.7">2</tspan><tspan dy="4.7"> per quadrat)</tspan></text>
<text x="556.4" y="176.8" font-size="18.3" text-anchor="start" font-family="Liberation Sans, sans-serif" fill="#111" >Origin</text>
<line x1="560.1" y1="194.2" x2="572.2" y2="194.2" stroke="#aaaaaa" stroke-width="1.8"/>
<circle cx="566.2" cy="194.2" r="2.2" fill="#b0b0b0"/>
<text x="578.9" y="195.9" font-size="14.2" text-anchor="start" font-family="Liberation Sans, sans-serif" fill="#111" >Tasmania</text>
<line x1="560.1" y1="211.6" x2="572.2" y2="211.6" stroke="#000" stroke-width="2"/>
<circle cx="566.2" cy="211.6" r="2.2" fill="#000"/>
<text x="578" y="215.3" font-size="14.2" text-anchor="start" font-family="Liberation Sans, sans-serif" fill="#111" textLength="88.5" lengthAdjust="spacingAndGlyphs">New Zealand</text>
<text x="556.4" y="558.1" font-size="18.3" text-anchor="start" font-family="Liberation Sans, sans-serif" fill="#111" >Origin</text>
<line x1="560.1" y1="575.5" x2="572.2" y2="575.5" stroke="#aaaaaa" stroke-width="1.8"/>
<circle cx="566.2" cy="575.5" r="2.2" fill="#b0b0b0"/>
<text x="578.9" y="577.2" font-size="14.2" text-anchor="start" font-family="Liberation Sans, sans-serif" fill="#111" >Tasmania</text>
<line x1="560.1" y1="592.9" x2="572.2" y2="592.9" stroke="#000" stroke-width="2"/>
<circle cx="566.2" cy="592.9" r="2.2" fill="#000"/>
<text x="578" y="596.6" font-size="14.2" text-anchor="start" font-family="Liberation Sans, sans-serif" fill="#111" textLength="88.5" lengthAdjust="spacingAndGlyphs">New Zealand</text>
<text x="551" y="925.2" font-size="18.3" text-anchor="start" font-family="Liberation Sans, sans-serif" fill="#111" >Tubeworms</text>
<line x1="555.8" y1="934.8" x2="567.6" y2="934.8" stroke="#000" stroke-width="2"/>
<rect x="559.3" y="932.4" width="4.8" height="4.8"/>
<text x="572.8" y="938.5" font-size="15.1" text-anchor="start" font-family="Liberation Sans, sans-serif" fill="#111" >present</text>
<line x1="555.8" y1="953.2" x2="567.6" y2="953.2" stroke="#000" stroke-width="2" stroke-dasharray="1.5 1.5"/>
<path d="M559.2 950.7L564.2 955.7M559.2 955.7L564.2 950.7" stroke="#000" stroke-width="1.2"/>
<text x="572.8" y="956.6" font-size="15.1" text-anchor="start" font-family="Liberation Sans, sans-serif" fill="#111" >absent</text></svg>
</body></html>
